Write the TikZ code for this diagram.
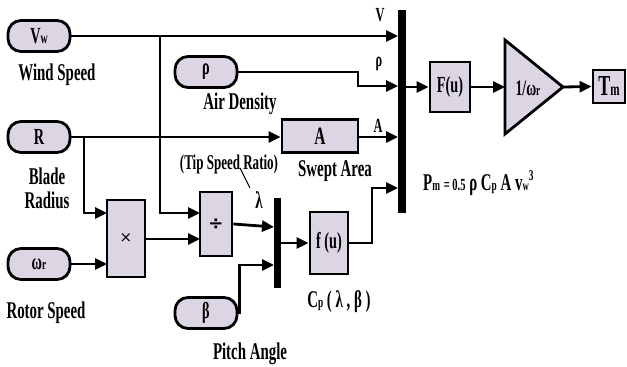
\documentclass[tikz,border=0pt]{standalone}
\usepackage{fontspec}
\setmainfont[FakeStretch=0.62]{Liberation Serif}
\newfontfamily\symfont{DejaVu Sans}
\usetikzlibrary{arrows.meta}
\definecolor{blkfill}{HTML}{DCD6E4}
\tikzset{
  wire/.style={line width=2.8pt},
  arr/.style={wire, -{Triangle[length=12pt,width=11pt]}},
  blk/.style={draw, line width=2.8pt, fill=blkfill, inner sep=0pt},
  pill/.style={blk, rounded corners=13pt, minimum width=62pt, minimum height=31pt, font=\fontsize{23}{24}\selectfont\bfseries},
  bar/.style={fill=black, draw=none, inner sep=0pt},
  lbl/.style={font=\fontsize{24}{25}\selectfont\bfseries, inner sep=0pt},
  slbl/.style={font=\fontsize{20}{21}\selectfont\bfseries, inner sep=0pt},
}
\begin{document}
\begin{tikzpicture}[x=1pt,y=-1pt]
\useasboundingbox (0,0) rectangle (627,367);
% sources
\node[pill] (vw) at (39,36) {V{\fontsize{16}{16}\selectfont w}};
\node[pill] (rho) at (206,72) {ρ};
\node[pill] (R) at (39,137) {R};
\node[pill] (wr) at (39,264) {ω{\fontsize{15}{15}\selectfont r}};
\node[pill] (beta) at (206,313) {β};
% blocks
\node[blk, minimum width=76pt, minimum height=33pt, font=\fontsize{25}{26}\selectfont\bfseries] (A) at (320,136) {A};
\node[bar, minimum width=8pt, minimum height=203pt] (mux1) at (402,111.5) {};
\node[blk, minimum width=40pt, minimum height=50pt, font=\fontsize{23}{24}\selectfont\bfseries] (Fu) at (450,87) {F(u)};
\fill[blkfill, draw=black, line width=2.8pt, line join=miter] (505,40) -- (563,87) -- (505,134) -- cycle;
\coordinate (gin) at (505,87);
\coordinate (gout) at (563,87);
\node[font=\fontsize{22}{22}\selectfont\bfseries, inner sep=0pt] (gtxt) at (528,88) {1/ω{\fontsize{15}{15}\selectfont r}};
\node[blk, minimum width=32pt, minimum height=33pt, font=\fontsize{29}{29}\selectfont\bfseries] (Tm) at (609,86.5) {T{\fontsize{18}{18}\selectfont m}};
\node[blk, minimum width=38pt, minimum height=77pt, font=\symfont\fontsize{15}{15}\selectfont] (mult) at (126,238.5) {×};
\node[blk, minimum width=32pt, minimum height=64pt, font=\symfont\fontsize{18}{18}\selectfont\bfseries] (div) at (216,224) {÷};
\node[bar, minimum width=7pt, minimum height=90pt] (mux2) at (277.5,243) {};
\node[blk, minimum width=38pt, minimum height=62pt, font=\fontsize{23}{24}\selectfont\bfseries] (fu) at (329,243) {f (u)};
% junctions / free ends
\coordinate (j1) at (160,36);
\coordinate (j2) at (84,137);
\coordinate (m1a) at (398,36);
\coordinate (m1b) at (398,86);
\coordinate (m1c) at (398,137);
\coordinate (m1d) at (398,188);
\coordinate (dva) at (200,213);
\coordinate (dvb) at (200,239);
\coordinate (mla) at (107,213);
\coordinate (mlb) at (107,264);
\coordinate (m2a) at (274,227);
\coordinate (m2b) at (274,265);
% connectors
\draw[arr] (vw.east) -- (m1a);
\draw[arr] (j1) |- (dva);
\draw[arr] (rho.east) -- (358,72) -- (358,86) -- (m1b);
\draw[arr] (R.east) -- (R.east -| A.west);
\draw[arr] (j2) |- (mla);
\draw[arr] (wr.east) -- (mlb);
\draw[arr] (mult.east |- dvb) -- (dvb);
\draw[arr] (div.east) -- (m2a);
\draw[arr] (beta.east) -- ++(1,0) |- (m2b);
\draw[arr] (mux2.east |- fu.west) -- (fu.west);
\draw[arr] (fu.east) -- (372,243) -- (372,188) -- (m1d);
\draw[arr] (A.east |- m1c) -- (m1c);
\draw[arr] (mux1.east |- Fu.west) -- (Fu.west);
\draw[arr] (Fu.east) -- (gin);
\draw[arr] (gout) -- (Tm.west);
% labels
\node[slbl] (lV) at (380,15) {V};
\node[slbl] (lrho) at (379,64) {ρ};
\node[slbl] (lA) at (378,126) {A};
\node[lbl] (lws) at (57,75) {Wind Speed};
\node[lbl] (lad) at (240,104) {Air Density};
\node[lbl, align=center] (lbr) at (47,188) {Blade\\[-1pt]Radius};
\node[lbl] (lrs) at (46,313) {Rotor Speed};
\node[lbl] (lsa) at (335,171) {Swept Area};
\node[font=\fontsize{21}{22}\selectfont\bfseries, inner sep=0pt] (ltsr) at (229,164) {(Tip Speed Ratio)};
\node[lbl] (llam) at (259,200) {λ};
\draw[line width=1pt] (240,168) -- (250,188);
\node[lbl] (lpa) at (250,354) {Pitch Angle};
\node[lbl] (lcp) at (339,302) {C{\fontsize{15}{15}\selectfont p} ( λ , β )};
\node[lbl, anchor=west] (lpm) at (423,183) {P{\fontsize{15}{15}\selectfont m} {\fontsize{17}{17}\selectfont = 0.5} ρ C{\fontsize{15}{15}\selectfont p} A v{\fontsize{14}{14}\selectfont w}\raisebox{10pt}{\fontsize{15}{15}\selectfont 3}};
\end{tikzpicture}
\end{document}
